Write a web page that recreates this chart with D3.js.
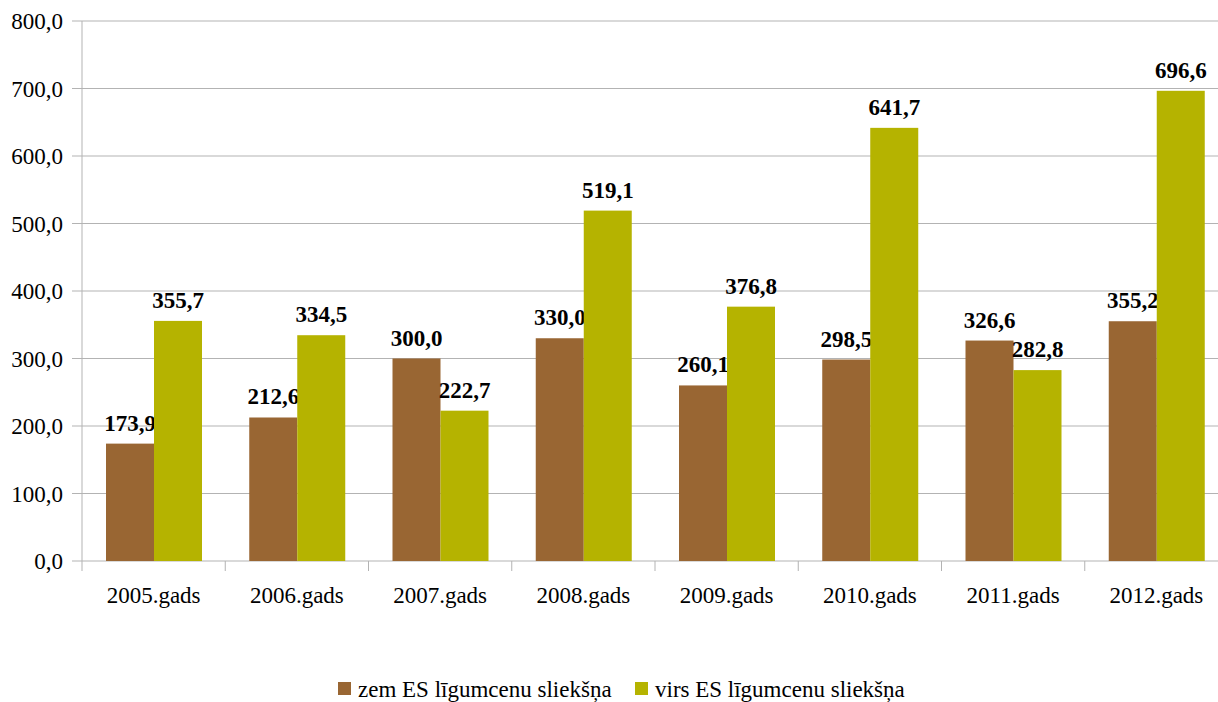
<!DOCTYPE html>
<html><head><meta charset="utf-8">
<script src="https://cdn.jsdelivr.net/npm/d3@7/dist/d3.min.js"></script>
</head><body style="margin:0">
<svg id="c" width="1218" height="702" style="font-family:'Liberation Serif'"></svg>
<script>
const categories = ["2005.gads","2006.gads","2007.gads","2008.gads","2009.gads","2010.gads","2011.gads","2012.gads"];
const seriesNames = ["zem ES līgumcenu sliekšņa","virs ES līgumcenu sliekšņa"];
const zem = [173.9,212.6,300.0,330.0,260.1,298.5,326.6,355.2];
const virs = [355.7,334.5,222.7,519.1,376.8,641.7,282.8,696.6];
const yTicks = [0,100,200,300,400,500,600,700,800];
const colors = ["#996633","#b5b300"];

const svg = d3.select("#c");
const FF = "Liberation Serif";
const FS = 23;
const L = 82, R = 1228, T = 21, B = 561;
const fmt = v => d3.format(".1f")(v).replace(".", ",");
const x = d3.scaleBand().domain(categories).range([L, R]).paddingInner(0).paddingOuter(0);
const y = d3.scaleLinear().domain([0,800]).range([B, T]);

svg.append("g").selectAll("line").data(yTicks).join("line")
  .attr("x1", L-10).attr("x2", R).attr("y1", d=>y(d)).attr("y2", d=>y(d))
  .attr("stroke", "#b3b3b3").attr("stroke-width", 1);
svg.append("line").attr("x1", L).attr("x2", L).attr("y1", T).attr("y2", B+10).attr("stroke","#b3b3b3");
svg.append("g").selectAll("line").data(categories.slice(1)).join("line")
  .attr("x1", d=>x(d)).attr("x2", d=>x(d)).attr("y1", B).attr("y2", B+10).attr("stroke","#b3b3b3");
svg.append("g").selectAll("text").data(yTicks).join("text")
  .attr("x", 63).attr("y", d=>y(d)+8).attr("text-anchor","end")
  .attr("font-family", FF).attr("font-size", FS).text(d=>fmt(d));
svg.append("g").selectAll("text").data(categories).join("text")
  .attr("x", d=>x(d)+x.bandwidth()/2).attr("y", 603).attr("text-anchor","middle")
  .attr("font-family", FF).attr("font-size", FS).text(d=>d);

const series = [zem, virs];
const bw = 48;
series.forEach((s, si) => {
  const g = svg.append("g");
  g.selectAll("rect").data(s).join("rect")
    .attr("x", (d,i)=>x(categories[i]) + 24 + si*bw)
    .attr("width", bw)
    .attr("y", d=>y(d)).attr("height", d=>B - y(d))
    .attr("fill", colors[si]);
  g.selectAll("text").data(s).join("text")
    .attr("x", (d,i)=>x(categories[i]) + 24 + si*bw + bw/2)
    .attr("y", d=>y(d) - 13).attr("text-anchor","middle")
    .attr("font-family", FF).attr("font-size", FS).attr("font-weight","bold")
    .text(d=>fmt(d));
});

const lg = svg.append("g");
const lx = [338, 635];
seriesNames.forEach((n, i) => {
  lg.append("rect").attr("x", lx[i]).attr("y", 682).attr("width", 13).attr("height", 13).attr("fill", colors[i]);
  lg.append("text").attr("x", lx[i]+20).attr("y", 697)
    .attr("font-family", FF).attr("font-size", FS).text(n);
});
</script></body></html>
